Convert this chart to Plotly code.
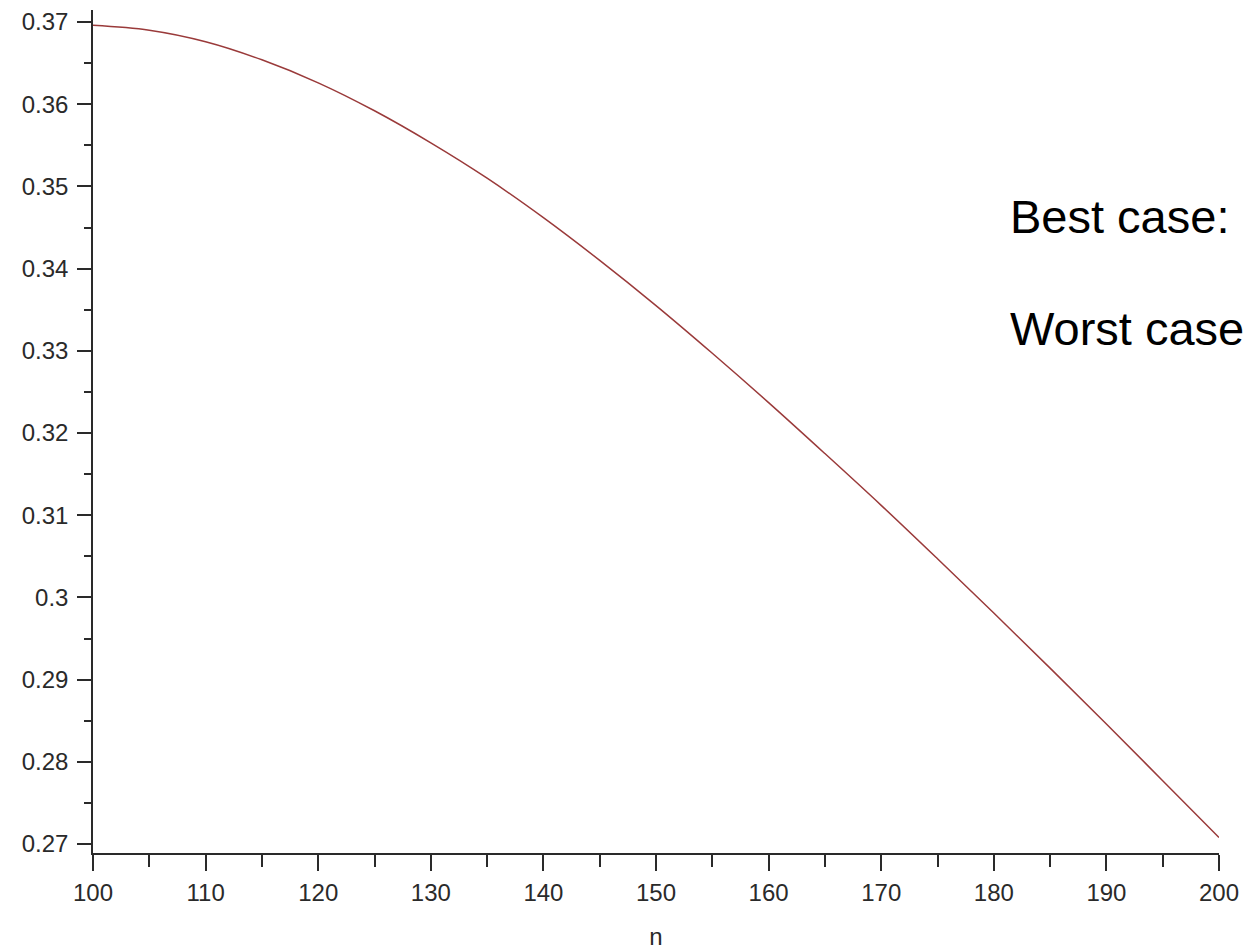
import plotly.graph_objects as go

# Data
n_values = [100, 105, 110, 115, 120, 125, 130, 135, 140, 145, 150,
            155, 160, 165, 170, 175, 180, 185, 190, 195, 200]
p_values = [0.3696, 0.3690, 0.3676, 0.3654, 0.3626, 0.3592, 0.3553, 0.3510,
            0.3462, 0.3410, 0.3355, 0.3297, 0.3237, 0.3175, 0.3112, 0.3047,
            0.2981, 0.2914, 0.2846, 0.2777, 0.2708]

x_tick_vals = [100, 110, 120, 130, 140, 150, 160, 170, 180, 190, 200]
x_tick_text = ["100", "110", "120", "130", "140", "150", "160", "170", "180", "190", "200"]
y_tick_vals = [0.27, 0.28, 0.29, 0.30, 0.31, 0.32, 0.33, 0.34, 0.35, 0.36, 0.37]
y_tick_text = ["0.27", "0.28", "0.29", "0.3", "0.31", "0.32", "0.33", "0.34", "0.35", "0.36", "0.37"]

x_title = "n"
notes = ["Best case:", "Worst case"]

tick_font = dict(family="Liberation Sans, Arial, sans-serif", size=24, color="#2a2a2a")
note_font = dict(family="Liberation Sans, Arial, sans-serif", size=47, color="black")
axis_col = "#2a2a2a"

fig = go.Figure()
fig.add_trace(go.Scatter(
    x=n_values, y=p_values, mode="lines",
    line=dict(color="#9a3a3a", width=1.5, shape="spline"),
    showlegend=False, hoverinfo="skip",
))

fig.update_layout(
    width=1244, height=950,
    margin=dict(l=93, r=25, t=10, b=97, autoexpand=False),
    paper_bgcolor="white", plot_bgcolor="white",
    showlegend=False,
)

fig.update_xaxes(
    range=[100, 200], automargin=False,
    tickvals=x_tick_vals, ticktext=x_tick_text,
    ticks="outside", ticklen=16, tickwidth=1.5, tickcolor=axis_col,
    ticklabelstandoff=1, ticklabeloverflow="allow",
    showline=True, linecolor=axis_col, linewidth=1.5,
    showgrid=False, zeroline=False,
    tickfont=tick_font,
    minor=dict(dtick=5, tick0=100, ticks="outside", ticklen=12, tickwidth=1.5,
               tickcolor=axis_col, showgrid=False),
    title=dict(text=x_title, font=tick_font, standoff=31),
)

fig.update_yaxes(
    range=[0.26891, 0.37146], automargin=False,
    tickvals=y_tick_vals, ticktext=y_tick_text,
    ticks="outside", ticklen=14, tickwidth=1.5, tickcolor=axis_col,
    ticklabelstandoff=4, ticklabeloverflow="allow",
    showline=True, linecolor=axis_col, linewidth=1.5,
    showgrid=False, zeroline=False,
    tickfont=tick_font,
    minor=dict(dtick=0.005, tick0=0.27, ticks="outside", ticklen=7, tickwidth=1.5,
               tickcolor=axis_col, showgrid=False),
)

fig.add_annotation(
    text=notes[0], xref="paper", yref="paper", x=0.8126, y=0.755,
    xanchor="left", yanchor="middle", showarrow=False, font=note_font,
)
fig.add_annotation(
    text=notes[1], xref="paper", yref="paper", x=0.8126, y=0.6216,
    xanchor="left", yanchor="middle", showarrow=False, font=note_font,
)

fig.write_html(
    "out.html",
    config={"displayModeBar": False},
    post_script="document.body.style.margin='0';document.body.style.overflow='hidden';",
)
